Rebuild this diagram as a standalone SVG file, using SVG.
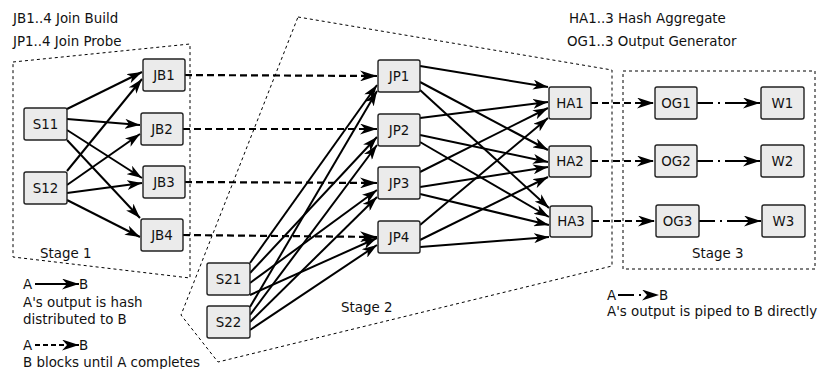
<svg xmlns="http://www.w3.org/2000/svg" width="819" height="369" viewBox="0 0 819 369">
<style>
text{font-family:"DejaVu Sans","Liberation Sans",sans-serif;font-size:13.4px;fill:#111}
.n rect{fill:#ebebeb;stroke:#222;stroke-width:1.4}
.n text{text-anchor:middle}
.s{fill:none;stroke:#000;stroke-width:2;marker-end:url(#am)}
.d{fill:none;stroke:#000;stroke-width:2.2;stroke-dasharray:7,4;marker-end:url(#al)}
.dd{fill:none;stroke:#000;stroke-width:2.2;stroke-dasharray:16,5,2,5,60;marker-end:url(#al)}
.b{fill:none;stroke:#000;stroke-width:1;stroke-dasharray:3,3}
</style>
<defs>
<marker id="am" markerUnits="userSpaceOnUse" markerWidth="15" markerHeight="10" refX="15" refY="5" orient="auto"><path d="M0,0 L15,5 L0,10 L4,5 z" fill="#000"/></marker>
<marker id="al" markerUnits="userSpaceOnUse" markerWidth="17" markerHeight="11" refX="17" refY="5.5" orient="auto"><path d="M0,0 L17,5.5 L0,11 L5,5.5 z" fill="#000"/></marker>
</defs>
<g id="stages">
<polygon class="b" points="13,62 190,44 190,278 13,257"/>
<polygon class="b" points="298,17 612,70 612,266 218,362 181,315"/>
<rect class="b" x="623" y="71" width="192" height="198"/>
<text x="40" y="258">Stage 1</text>
<text x="341" y="312">Stage 2</text>
<text x="692" y="258">Stage 3</text>
</g>
<g id="labels">
<text x="13" y="23">JB1..4 Join Build</text>
<text x="13" y="46">JP1..4 Join Probe</text>
<text x="569" y="23">HA1..3 Hash Aggregate</text>
<text x="567" y="46">OG1..3 Output Generator</text>
</g>
<g id="connectors">
<path class="s" d="M67,109 L142,72"/>
<path class="s" d="M67,119 L140,125"/>
<path class="s" d="M67,130 L142,178"/>
<path class="s" d="M67,140 L140,218"/>
<path class="s" d="M67,171 L142,79"/>
<path class="s" d="M67,185 L140,134"/>
<path class="s" d="M67,193 L142,183"/>
<path class="s" d="M67,200 L140,237"/>
<path class="d" d="M185,75 L377,76"/>
<path class="d" d="M183,129 L377,129"/>
<path class="d" d="M185,182 L377,183"/>
<path class="d" d="M183,235 L377,237"/>
<path class="s" d="M250,263 L377,85"/>
<path class="s" d="M250,273 L377,137"/>
<path class="s" d="M250,283 L377,190"/>
<path class="s" d="M250,295 L377,238"/>
<path class="s" d="M250,307 L377,91"/>
<path class="s" d="M250,315 L377,145"/>
<path class="s" d="M250,322 L377,197"/>
<path class="s" d="M250,330 L377,245"/>
<path class="s" d="M420,66 L548,87"/>
<path class="s" d="M420,82 L548,150"/>
<path class="s" d="M420,90 L549,208"/>
<path class="s" d="M420,118 L548,102"/>
<path class="s" d="M420,135 L548,162"/>
<path class="s" d="M420,142 L549,217"/>
<path class="s" d="M420,172 L548,108"/>
<path class="s" d="M420,187 L548,167"/>
<path class="s" d="M420,194 L549,225"/>
<path class="s" d="M420,225 L548,118"/>
<path class="s" d="M420,240 L548,177"/>
<path class="s" d="M420,247 L549,237"/>
<path class="d" d="M591,103 L654,103"/>
<path class="d" d="M591,161 L654,161"/>
<path class="d" d="M592,221 L655,221"/>
<path class="dd" d="M697,103 L760,103"/>
<path class="dd" d="M697,161 L760,161"/>
<path class="dd" d="M699,221 L761,221"/>
</g>
<g id="S11" class="n"><rect x="24" y="108" width="43" height="32" rx="2"/><text x="45.5" y="129">S11</text></g>
<g id="S12" class="n"><rect x="24" y="172" width="43" height="32" rx="2"/><text x="45.5" y="193">S12</text></g>
<g id="JB1" class="n"><rect x="143" y="59" width="42" height="32" rx="2"/><text x="164" y="80">JB1</text></g>
<g id="JB2" class="n"><rect x="141" y="113" width="42" height="32" rx="2"/><text x="162" y="134">JB2</text></g>
<g id="JB3" class="n"><rect x="143" y="166" width="42" height="32" rx="2"/><text x="164" y="187">JB3</text></g>
<g id="JB4" class="n"><rect x="141" y="219" width="42" height="32" rx="2"/><text x="162" y="240">JB4</text></g>
<g id="JP1" class="n"><rect x="378" y="60" width="42" height="32" rx="2"/><text x="399" y="81">JP1</text></g>
<g id="JP2" class="n"><rect x="378" y="114" width="42" height="32" rx="2"/><text x="399" y="135">JP2</text></g>
<g id="JP3" class="n"><rect x="378" y="167" width="42" height="32" rx="2"/><text x="399" y="188">JP3</text></g>
<g id="JP4" class="n"><rect x="378" y="221" width="42" height="32" rx="2"/><text x="399" y="242">JP4</text></g>
<g id="S21" class="n"><rect x="207" y="263" width="43" height="32" rx="2"/><text x="228.5" y="284">S21</text></g>
<g id="S22" class="n"><rect x="207" y="306" width="43" height="32" rx="2"/><text x="228.5" y="327">S22</text></g>
<g id="HA1" class="n"><rect x="549" y="87" width="42" height="32" rx="2"/><text x="570" y="108">HA1</text></g>
<g id="HA2" class="n"><rect x="549" y="146" width="42" height="31" rx="2"/><text x="570" y="166">HA2</text></g>
<g id="HA3" class="n"><rect x="550" y="206" width="42" height="31" rx="2"/><text x="571" y="226">HA3</text></g>
<g id="OG1" class="n"><rect x="655" y="87" width="42" height="32" rx="2"/><text x="676" y="108">OG1</text></g>
<g id="OG2" class="n"><rect x="655" y="145" width="42" height="32" rx="2"/><text x="676" y="166">OG2</text></g>
<g id="OG3" class="n"><rect x="656" y="205" width="43" height="32" rx="2"/><text x="677.5" y="226">OG3</text></g>
<g id="W1" class="n"><rect x="761" y="87" width="43" height="32" rx="2"/><text x="782.5" y="108">W1</text></g>
<g id="W2" class="n"><rect x="761" y="145" width="43" height="32" rx="2"/><text x="782.5" y="166">W2</text></g>
<g id="W3" class="n"><rect x="762" y="205" width="43" height="32" rx="2"/><text x="783.5" y="226">W3</text></g>
<g id="legend">
<text x="23" y="289">A</text>
<path class="s" d="M35,284 L79,284" style="marker-end:url(#al)"/>
<text x="79" y="289">B</text>
<text x="23" y="307">A's output is hash</text>
<text x="23" y="324">distributed to B</text>
<text x="23" y="350">A</text>
<path class="d" d="M35,345 L79,345" style="stroke-dasharray:5,3"/>
<text x="79" y="350">B</text>
<text x="23" y="367">B blocks until A completes</text>
<text x="607" y="300">A</text>
<path class="dd" d="M618,295 L659,295" style="stroke-dasharray:16,5,2,40"/>
<text x="659" y="300">B</text>
<text x="607" y="316">A's output is piped to B directly</text>
</g>
</svg>
